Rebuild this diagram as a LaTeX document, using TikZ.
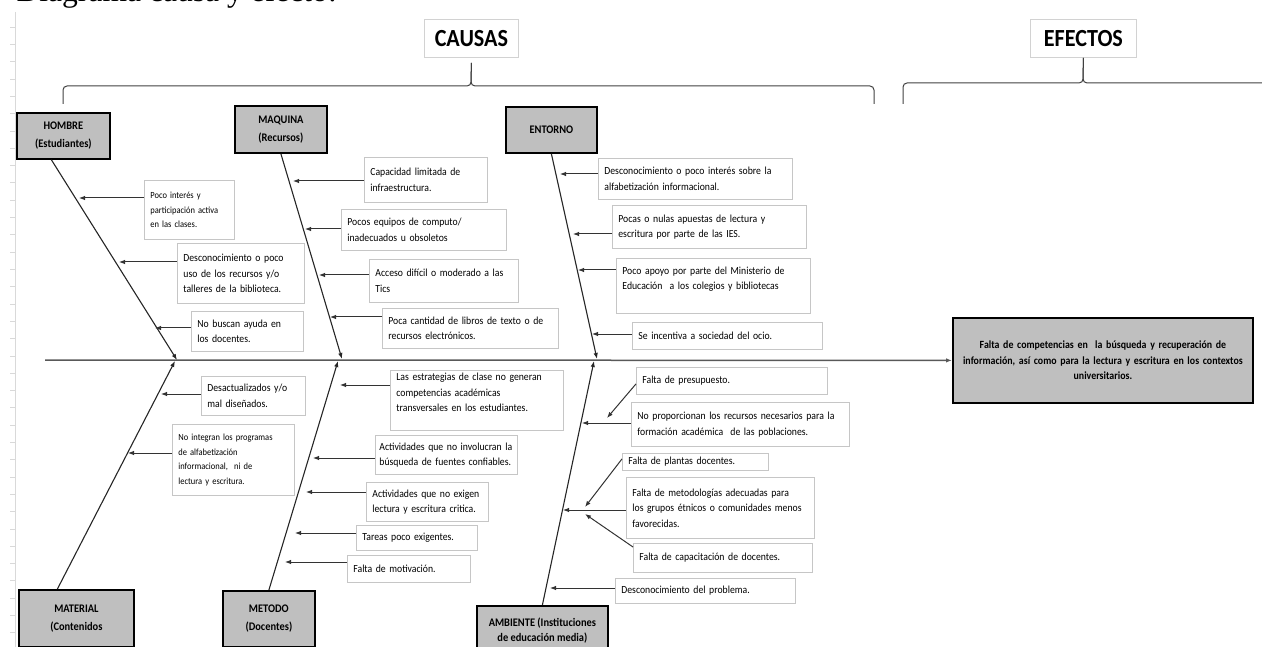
\documentclass[tikz,border=0pt]{standalone}
\usepackage{fontspec}
\setmainfont{Carlito}[FakeStretch=0.9]
\newfontfamily\tituloserif{Liberation Serif}
\usetikzlibrary{arrows.meta, calc, positioning}

\begin{document}
\begin{tikzpicture}[x=1pt, y=-1pt, >={Latex[length=6pt,width=4.5pt]},
    causa/.style={draw=gray!45, line width=0.8pt, anchor=north west, align=left, inner xsep=6pt, inner ysep=2pt, font=\fontsize{10.8}{15.5}\selectfont},
    causachica/.style={causa, font=\fontsize{9.4}{14.5}\selectfont},
    categoria/.style={draw=black, line width=1.8pt, fill=gray!50, anchor=north west, align=center, inner sep=0pt, font=\bfseries\fontsize{11.6}{18}\selectfont},
    titulo/.style={draw=gray!35, line width=0.8pt, anchor=north west, inner sep=0pt, font=\bfseries\fontsize{24.6}{28}\selectfont},
    espina/.style={->, line width=1.1pt, black!85},
    flecha/.style={->, line width=1pt, black!80},
    llave/.style={line width=1pt, black!75, rounded corners=4pt}]

        \useasboundingbox (0,0) rectangle (1262,647);

        % Vẽ tiêu đề và lề trái
        \node[anchor=base west, font=\tituloserif\fontsize{31.6}{36}\selectfont] (encabezado) at (13,2) {Diagrama causa y efecto:};
        \draw[gray!30] (15,12) -- (15,647); % Lề
        \foreach \k in {0,...,36}
            \draw[gray!30] (10,{27+17.3*\k}) -- (15,{27+17.3*\k});

        % Vẽ hai tiêu đề và ngoặc
        \node[titulo, minimum width=94pt, minimum height=38pt] (causas) at (424,19) {CAUSAS};
        \node[titulo, minimum width=106pt, minimum height=38pt] (efectos) at (1030,19) {EFECTOS};
        \draw[llave] (63,104) |- (471,86) -- ([yshift=-5pt]causas.south);
        \draw[llave] ([yshift=-5pt]causas.south) -- (471,86) -| (874,104);
        \draw[llave] (903,104) |- (1083,83) -- (efectos.south);
        \draw[llave] (efectos.south) -- (1083,83) -- (1262,83);

        % Vẽ trục chính và hiệu ứng
        \coordinate (inicio) at (45,360);
        \node[categoria, font=\bfseries\fontsize{11}{15.5}\selectfont, minimum width=300pt, minimum height=85pt, text width=290pt] (efecto) at (952,317) {Falta de competencias en~ la búsqueda y recuperación de\\información, así como para la lectura y escritura en los contextos\\universitarios.};
        \draw[->, line width=1.5pt, black!65] (inicio) -- (efecto.west); % Trục chính

        % Các nhóm nguyên nhân
        \node[categoria, minimum width=93pt, minimum height=46pt] (hombre) at (16,112) {HOMBRE\\(Estudiantes)};
        \node[categoria, minimum width=92pt, minimum height=47pt] (maquina) at (234,105) {MAQUINA\\(Recursos)};
        \node[categoria, minimum width=91pt, minimum height=46pt] (entorno) at (505,106) {ENTORNO};
        \node[categoria, minimum width=115pt, minimum height=57pt] (material) at (18,589) {MATERIAL\\(Contenidos};
        \node[categoria, minimum width=92pt, minimum height=56pt] (metodo) at (222,590) {METODO\\(Docentes)};
        \node[categoria, minimum width=131pt, minimum height=50pt, font=\bfseries\fontsize{11.6}{15}\selectfont] (ambiente) at (476,605) {AMBIENTE (Instituciones\\de educación media)};

        % Các xương cá
        \draw[espina] ([xshift=-12pt]hombre.south) -- (177,360) coordinate (pH); % Hombre
        \draw[espina] (maquina.south) -- (342,359) coordinate (pM); % Maquina
        \draw[espina] (entorno.south) -- (597,359) coordinate (pE); % Entorno
        \draw[espina] ([xshift=-19pt]material.north) -- (175,361) coordinate (pMa); % Material
        \draw[espina] (metodo.north) -- (338,361) coordinate (pMe); % Metodo
        \draw[espina] (ambiente.north) -- (594,361) coordinate (pA); % Ambiente

        % Hombre
        \node[causachica, minimum width=90pt, minimum height=59pt, text width=78pt] (h1) at (144,180) {Poco interés y\\participación activa\\en las clases.};
        \node[causa, minimum width=127pt, minimum height=60pt, text width=115pt] (h2) at (177,243) {Desconocimiento o poco\\uso de los recursos y/o\\talleres de la biblioteca.};
        \node[causa, minimum width=112pt, minimum height=40pt, text width=100pt] (h3) at (191,311) {No buscan ayuda en\\los docentes.};
        \coordinate (th1) at (79,198);
        \coordinate (th2) at (119,262);
        \coordinate (th3) at (155,328);
        \draw[flecha] (th1 -| h1.west) -- (th1);
        \draw[flecha] (th2 -| h2.west) -- (th2);
        \draw[flecha] (th3 -| h3.west) -- (th3);

        % Maquina
        \node[causa, minimum width=123pt, minimum height=45pt, text width=111pt] (m1) at (364,157) {Capacidad limitada de\\infraestructura.};
        \node[causa, minimum width=165pt, minimum height=41pt, text width=153pt] (m2) at (341,209) {Pocos equipos de computo/\\inadecuados u obsoletos};
        \node[causa, minimum width=149pt, minimum height=43pt, text width=137pt] (m3) at (369,259) {Acceso difícil o moderado a las\\Tics};
        \node[causa, minimum width=176pt, minimum height=40pt, text width=164pt] (m4) at (382,308) {Poca cantidad de libros de texto o de\\recursos electrónicos.};
        \coordinate (tm1) at (293,181);
        \coordinate (tm2) at (305,229);
        \coordinate (tm3) at (319,275);
        \coordinate (tm4) at (330,317);
        \draw[flecha] (tm1 -| m1.west) -- (tm1);
        \draw[flecha] (tm2 -| m2.west) -- (tm2);
        \draw[flecha] (tm3 -| m3.west) -- (tm3);
        \draw[flecha] (tm4 -| m4.west) -- (tm4);

        % Entorno
        \node[causa, minimum width=194pt, minimum height=41pt, text width=182pt] (e1) at (598,158) {Desconocimiento o poco interés sobre la\\alfabetización informacional.};
        \node[causa, minimum width=194pt, minimum height=43pt, text width=182pt] (e2) at (612,205) {Pocas o nulas apuestas de lectura y\\escritura por parte de las IES.};
        \node[causa, minimum width=194pt, minimum height=55pt, text width=182pt] (e3) at (616,258) {Poco apoyo por parte del Ministerio de\\Educación~ a los colegios y bibliotecas\\\mbox{}};
        \node[causa, minimum width=190pt, minimum height=27pt, text width=178pt] (e4) at (632,322) {Se incentiva a sociedad del ocio.};
        \coordinate (te1) at (560,174);
        \coordinate (te2) at (573,234);
        \coordinate (te3) at (578,270);
        \coordinate (te4) at (592,334);
        \draw[flecha] (te1 -| e1.west) -- (te1);
        \draw[flecha] (te2 -| e2.west) -- (te2);
        \draw[flecha] (te3 -| e3.west) -- (te3);
        \draw[flecha] (te4 -| e4.west) -- (te4);

        % Material
        \node[causa, minimum width=104pt, minimum height=39pt, text width=92pt] (ma1) at (201,376) {Desactualizados y/o\\mal diseñados.};
        \node[causachica, minimum width=122pt, minimum height=71pt, text width=110pt] (ma2) at (172,424) {No integran los programas\\de alfabetización\\informacional,~ ni de\\lectura y escritura.};
        \coordinate (tma1) at (161,394);
        \coordinate (tma2) at (128,453);
        \draw[flecha] (tma1 -| ma1.west) -- (tma1);
        \draw[flecha] (tma2 -| ma2.west) -- (tma2);

        % Metodo
        \node[causa, minimum width=173pt, minimum height=60pt, text width=161pt] (me1) at (390,370) {Las estrategias de clase no generan\\competencias académicas\\transversales en los estudiantes.\\\mbox{}};
        \node[causa, minimum width=142pt, minimum height=39pt, text width=134pt, inner xsep=4pt] (me2) at (375,435) {\mbox{Actividades que no involucran la}\\búsqueda de fuentes confiables.};
        \node[causa, minimum width=122pt, minimum height=39pt, text width=110pt] (me3) at (366,482) {Actividades que no exigen\\lectura y escritura critica.};
        \node[causa, minimum width=121pt, minimum height=25pt, text width=109pt] (me4) at (356,525) {Tareas poco exigentes.};
        \node[causa, minimum width=123pt, minimum height=27pt, text width=111pt] (me5) at (347,555) {Falta de motivación.};
        \coordinate (tme1) at (340,385);
        \coordinate (tme2) at (313,458);
        \coordinate (tme3) at (306,492);
        \coordinate (tme4) at (295,533);
        \coordinate (tme5) at (285,562);
        \draw[flecha] (tme1 -| me1.west) -- (tme1);
        \draw[flecha] (tme2 -| me2.west) -- (tme2);
        \draw[flecha] (tme3 -| me3.west) -- (tme3);
        \draw[flecha] (tme4 -| me4.west) -- (tme4);
        \draw[flecha] (tme5 -| me5.west) -- (tme5);

        % Ambiente
        \node[causa, minimum width=191pt, minimum height=27pt, text width=179pt] (a1) at (636,367) {Falta de presupuesto.};
        \node[causa, minimum width=218pt, minimum height=44pt, text width=206pt] (a2) at (631,402) {No proporcionan los recursos necesarios para la\\formación académica~ de las poblaciones.};
        \node[causa, minimum width=146pt, minimum height=17pt, text width=134pt, inner ysep=0pt] (a3) at (622,453) {Falta de plantas docentes.};
        \node[causa, minimum width=188pt, minimum height=61pt, text width=176pt] (a4) at (626,477) {Falta de metodologías adecuadas para\\los grupos étnicos o comunidades menos\\favorecidas.};
        \node[causa, minimum width=179pt, minimum height=29pt, text width=167pt] (a5) at (633,543) {Falta de capacitación de docentes.};
        \node[causa, minimum width=180pt, minimum height=25pt, text width=168pt] (a6) at (615,578) {Desconocimiento del problema.};
        \coordinate (ta1) at (607,418);
        \coordinate (ta2) at (582,423);
        \coordinate (ta3) at (585,507);
        \coordinate (ta4) at (563,510);
        \coordinate (ta5) at (585,514);
        \coordinate (ta6) at (550,588);
        \draw[flecha] ([yshift=-3pt]a1.west) -- (ta1);
        \draw[flecha] (ta2 -| a2.west) -- (ta2);
        \draw[flecha] ([yshift=3pt]a3.west) -- (ta3);
        \draw[flecha] (ta4 -| a4.west) -- (ta4);
        \draw[flecha] ([yshift=-4pt]a5.north west) -- (ta5);
        \draw[flecha] (ta6 -| a6.west) -- (ta6);

\end{tikzpicture}
\end{document}
